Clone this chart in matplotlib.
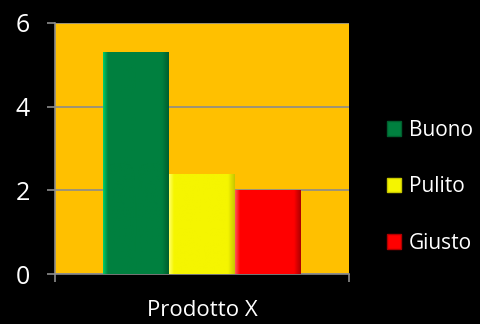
import matplotlib.pyplot as plt
import numpy as np
from matplotlib.colors import LinearSegmentedColormap
from matplotlib.patches import Patch

# --- Data ---
category = "Prodotto X"
series = ["Buono", "Pulito", "Giusto"]
values = [5.3, 2.4, 2.0]
colors = ["#00803F", "#F5F500", "#FF0000"]
lights = ["#00C865", "#FFFF60", "#FF5050"]
darks = ["#005F2E", "#C8C800", "#B00000"]
yticks = [0, 2, 4, 6]

plt.rcParams["font.family"] = ["Open Sans", "DejaVu Sans"]

fig = plt.figure(figsize=(4.8, 3.24), dpi=100, facecolor="black")
ax = fig.add_axes([55 / 480, 1 - 274 / 324, 294 / 480, 251 / 324])
ax.set_facecolor("#FFC000")

width = 0.224
bars = []
for i, (name, val, col) in enumerate(zip(series, values, colors)):
    b = ax.bar((i - 1) * width, val, width=width, color=col, linewidth=0,
               label=name, zorder=3)
    bars.append(b[0])

# bevel-like shading: horizontal gradient clipped to each bar
grad = np.linspace(0, 1, 64).reshape(1, -1)
for bar, lt, col, dk in zip(bars, lights, colors, darks):
    cmap = LinearSegmentedColormap.from_list(
        "b", [(0, lt), (0.07, col), (0.9, col), (1, dk)])
    x0, y0 = bar.get_x(), bar.get_y()
    im = ax.imshow(grad, cmap=cmap, aspect="auto", zorder=4,
                   extent=(x0, x0 + bar.get_width(), y0, y0 + bar.get_height()))
    im.set_clip_path(bar)
ax.set_xlim(-0.5, 0.5)
ax.set_ylim(0, 6)

ax.set_yticks(yticks)
ax.yaxis.grid(True, color="#8C8C8C", linewidth=1.2, zorder=1)
ax.set_axisbelow(True)

ax.set_xticks([0])
ax.set_xticklabels([category])
ax.set_xticks([-0.5, 0.5], minor=True)
ax.tick_params(axis="x", which="major", length=0, pad=19, colors="white", labelsize=16)
ax.tick_params(axis="x", which="minor", length=6, color="#8C8C8C", width=1.2)
ax.tick_params(axis="y", length=6, pad=12, colors="white", labelsize=18, width=1.2)
ax.tick_params(axis="y", color="#8C8C8C")

for side in ["top", "right"]:
    ax.spines[side].set_visible(False)
for side in ["left", "bottom"]:
    ax.spines[side].set_color("#8C8C8C")
    ax.spines[side].set_linewidth(1.2)

handles = [Patch(facecolor=c, edgecolor=d, linewidth=1) for c, d in zip(colors, darks)]
leg = fig.legend(handles, series, loc="center left", bbox_to_anchor=(368 / 480, 1 - 187 / 324),
                 frameon=False, fontsize=15, labelcolor="white", handlelength=0.7,
                 handleheight=0.7, handletextpad=0.35, labelspacing=1.7)

fig.savefig("out.png", dpi=100, facecolor="black")
